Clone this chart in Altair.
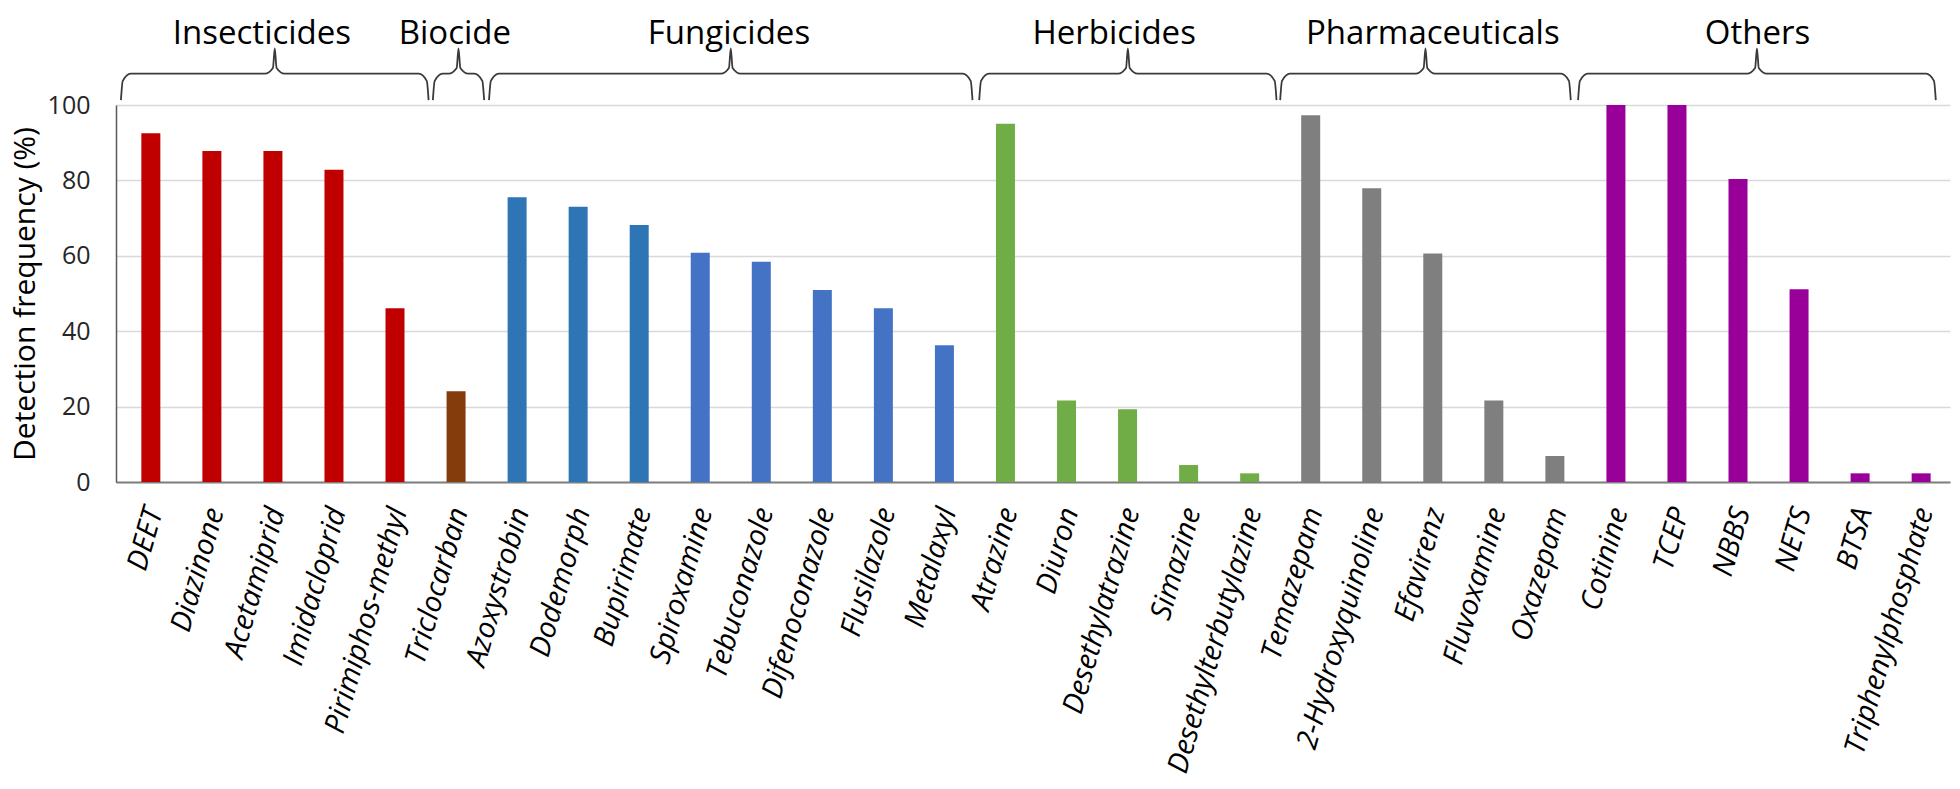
import altair as alt
import pandas as pd

# ---- data ----
compounds = ["DEET", "Diazinone", "Acetamiprid", "Imidacloprid", "Pirimiphos-methyl",
             "Triclocarban",
             "Azoxystrobin", "Dodemorph", "Bupirimate", "Spiroxamine", "Tebuconazole",
             "Difenoconazole", "Flusilazole", "Metalaxyl",
             "Atrazine", "Diuron", "Desethylatrazine", "Simazine", "Desethylterbutylazine",
             "Temazepam", "2-Hydroxyquinoline", "Efavirenz", "Fluvoxamine", "Oxazepam",
             "Cotinine", "TCEP", "NBBS", "NETS", "BTSA", "Triphenylphosphate"]
frequency = [92.5, 87.8, 87.8, 82.8, 46.1,
             24.1,
             75.5, 73.0, 68.2, 60.8, 58.4, 50.9, 46.1, 36.3,
             95.0, 21.6, 19.3, 4.5, 2.3,
             97.3, 77.9, 60.6, 21.6, 6.9,
             100.0, 100.0, 80.4, 51.1, 2.3, 2.3]
bar_colors = ["#C00000"] * 5 + ["#843C0C"] + ["#2E75B6"] * 3 + ["#4472C4"] * 5 + \
             ["#70AD47"] * 5 + ["#7F7F7F"] * 5 + ["#990099"] * 6

groups = ["Insecticides", "Biocide", "Fungicides", "Herbicides", "Pharmaceuticals", "Others"]
# bracket extents and group-title centres, in bar-index units
bracket_start = [-0.49, 4.62, 5.54, 13.57, 18.50, 23.38]
bracket_end = [4.55, 5.46, 13.46, 18.44, 23.26, 29.24]
title_center = [1.82, 4.98, 9.47, 15.78, 21.00, 26.32]

FONT = "Open Sans"

df = pd.DataFrame({"idx": list(range(len(compounds))), "name": compounds,
                   "freq": frequency, "color": bar_colors})

# curly-brace outlines built from the bracket extents
rows = []
for g, s, e in zip(groups, bracket_start, bracket_end):
    m = (s + e) / 2
    shape = [(s, 101.3), (s + 0.03, 106.4), (s + 0.16, 108.3),
             (m - 0.16, 108.3), (m - 0.03, 109.8), (m, 115.0),
             (m + 0.03, 109.8), (m + 0.16, 108.3),
             (e - 0.16, 108.3), (e - 0.03, 106.4), (e, 101.3)]
    for k, (bx, by) in enumerate(shape):
        rows.append({"group": g, "idx": bx, "freq": by, "ord": k})
brace_df = pd.DataFrame(rows)
label_df = pd.DataFrame({"group": groups, "idx": title_center,
                         "freq": [116.2] * len(groups)})

W = 1834
step = 61.38
x_lo = -30 / step
x_hi = x_lo + W / step
xscale = alt.Scale(domain=[x_lo, x_hi], nice=False, zero=False)
yscale = alt.Scale(domain=[0, 100], nice=False)

names_expr = "[" + ",".join("'" + n + "'" for n in compounds) + "][datum.value]"

x_axis = alt.Axis(values=list(range(len(compounds))), labelExpr=names_expr,
                  title=None, grid=False, ticks=False, tickSize=0,
                  domainColor="#7f7f7f", domainWidth=2,
                  labelFont=FONT, labelFontStyle="italic", labelFontSize=29,
                  labelColor="#000000", labelAngle=-74, labelAlign="right",
                  labelBaseline="middle", labelPadding=26, labelOffset=3,
                  labelLimit=0,
                  labelOverlap=False, labelFlush=False, labelBound=False)
y_axis = alt.Axis(values=[0, 20, 40, 60, 80, 100], title="Detection frequency (%)",
                  grid=True, gridColor="#d9d9d9", gridWidth=1.5,
                  ticks=False, tickSize=0, domainColor="#595959", domainWidth=1.5,
                  labelFont=FONT, labelFontSize=25, labelColor="#262626",
                  labelPadding=26,
                  titleFont=FONT, titleFontSize=30, titleFontWeight="normal",
                  titleColor="#000000", titlePadding=7)

bars = alt.Chart(df).mark_bar(width=19).encode(
    x=alt.X("idx:Q", scale=xscale, axis=x_axis),
    y=alt.Y("freq:Q", scale=yscale, axis=y_axis),
    color=alt.Color("color:N", scale=None),
)

braces = alt.Chart(brace_df).mark_line(interpolate="monotone", color="#3a3a3a",
                                       strokeWidth=1.8).encode(
    x=alt.X("idx:Q", scale=xscale, axis=x_axis),
    y=alt.Y("freq:Q", scale=yscale, axis=y_axis),
    detail="group:N",
    order="ord:Q",
)

heads = alt.Chart(label_df).mark_text(font=FONT, fontSize=33, color="#000000",
                                      baseline="alphabetic", align="center").encode(
    x=alt.X("idx:Q", scale=xscale, axis=x_axis),
    y=alt.Y("freq:Q", scale=yscale, axis=y_axis),
    text="group:N",
)

chart = alt.layer(bars, braces, heads).properties(
    width=W, height=377,
    background="white",
    autosize=alt.AutoSizeParams(type="none"),
    padding={"left": 108, "top": 97, "right": 2, "bottom": 299},
).configure_view(stroke=None)

chart.save("out.html", embed_options={"renderer": "svg", "actions": False})
